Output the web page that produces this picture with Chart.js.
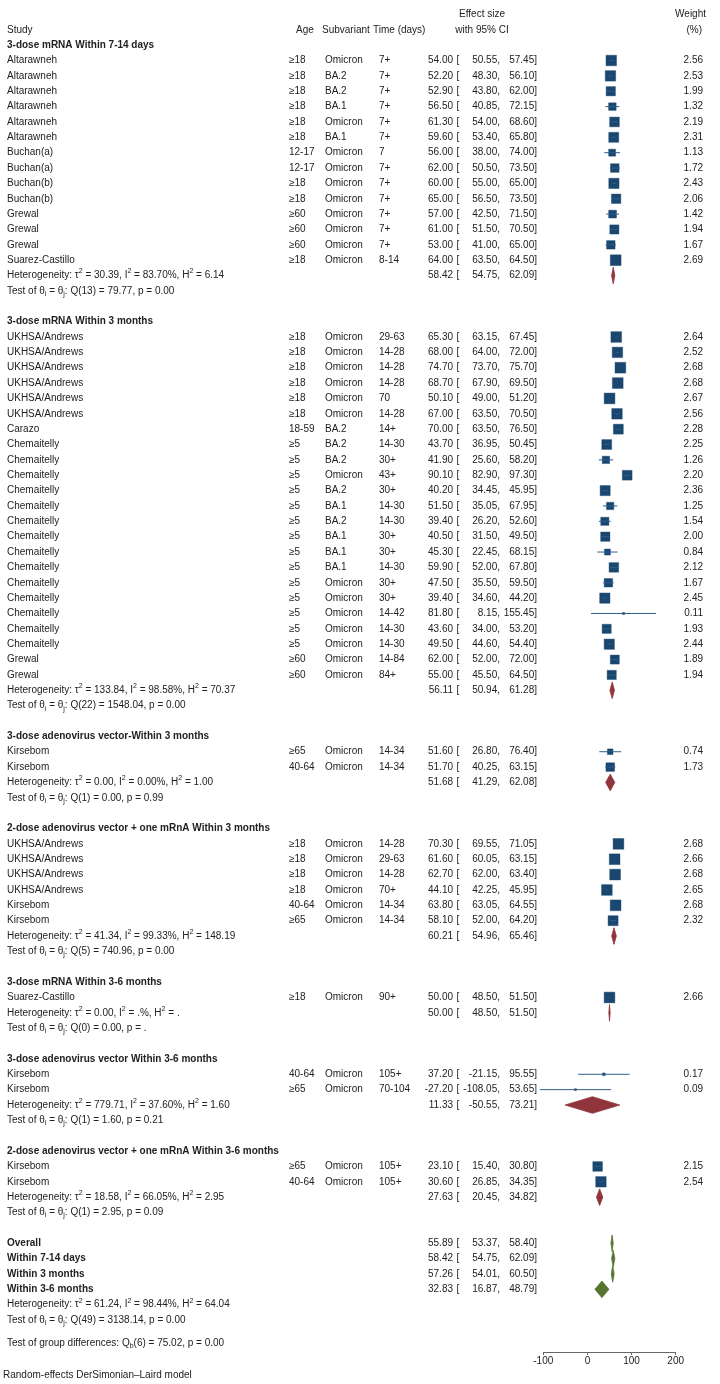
<!DOCTYPE html>
<html>
<head>
<meta charset="utf-8">
<script src="https://cdn.jsdelivr.net/npm/chart.js@4.4.1/dist/chart.umd.min.js"></script>
<style>
  html, body { margin: 0; padding: 0; background: #fff; }
  #wrap { position: relative; width: 720px; height: 1384px; }
</style>
</head>
<body>
<div id="wrap"><canvas id="forest"></canvas></div>
<script>
// ---------- data ----------
const groupTitles = [
  "3-dose mRNA Within 7-14 days",
  "3-dose mRNA Within 3 months",
  "3-dose adenovirus vector-Within 3 months",
  "2-dose adenovirus vector + one mRnA Within 3 months",
  "3-dose mRNA Within 3-6 months",
  "3-dose adenovirus vector Within 3-6 months",
  "2-dose adenovirus vector + one mRnA Within 3-6 months",
];
const groupSize = [14, 23, 2, 6, 1, 2, 2];

const studyNames = [
  "Altarawneh", "Altarawneh", "Altarawneh", "Altarawneh", "Altarawneh", "Altarawneh",
  "Buchan(a)", "Buchan(a)", "Buchan(b)", "Buchan(b)", "Grewal", "Grewal", "Grewal", "Suarez-Castillo",
  "UKHSA/Andrews", "UKHSA/Andrews", "UKHSA/Andrews", "UKHSA/Andrews", "UKHSA/Andrews", "UKHSA/Andrews",
  "Carazo", "Chemaitelly", "Chemaitelly", "Chemaitelly", "Chemaitelly", "Chemaitelly", "Chemaitelly",
  "Chemaitelly", "Chemaitelly", "Chemaitelly", "Chemaitelly", "Chemaitelly", "Chemaitelly", "Chemaitelly",
  "Chemaitelly", "Grewal", "Grewal",
  "Kirsebom", "Kirsebom",
  "UKHSA/Andrews", "UKHSA/Andrews", "UKHSA/Andrews", "UKHSA/Andrews", "Kirsebom", "Kirsebom",
  "Suarez-Castillo",
  "Kirsebom", "Kirsebom",
  "Kirsebom", "Kirsebom",
];
const ages = [
  "≥18", "≥18", "≥18", "≥18", "≥18", "≥18", "12-17", "12-17", "≥18", "≥18", "≥60", "≥60", "≥60", "≥18",
  "≥18", "≥18", "≥18", "≥18", "≥18", "≥18", "18-59", "≥5", "≥5", "≥5", "≥5", "≥5", "≥5", "≥5", "≥5",
  "≥5", "≥5", "≥5", "≥5", "≥5", "≥5", "≥60", "≥60",
  "≥65", "40-64",
  "≥18", "≥18", "≥18", "≥18", "40-64", "≥65",
  "≥18",
  "40-64", "≥65",
  "≥65", "40-64",
];
const subvariants = [
  "Omicron", "BA.2", "BA.2", "BA.1", "Omicron", "BA.1", "Omicron", "Omicron", "Omicron", "Omicron",
  "Omicron", "Omicron", "Omicron", "Omicron",
  "Omicron", "Omicron", "Omicron", "Omicron", "Omicron", "Omicron", "BA.2", "BA.2", "BA.2", "Omicron",
  "BA.2", "BA.1", "BA.2", "BA.1", "BA.1", "BA.1", "Omicron", "Omicron", "Omicron", "Omicron", "Omicron",
  "Omicron", "Omicron",
  "Omicron", "Omicron",
  "Omicron", "Omicron", "Omicron", "Omicron", "Omicron", "Omicron",
  "Omicron",
  "Omicron", "Omicron",
  "Omicron", "Omicron",
];
const times = [
  "7+", "7+", "7+", "7+", "7+", "7+", "7", "7+", "7+", "7+", "7+", "7+", "7+", "8-14",
  "29-63", "14-28", "14-28", "14-28", "70", "14-28", "14+", "14-30", "30+", "43+", "30+", "14-30",
  "14-30", "30+", "30+", "14-30", "30+", "30+", "14-42", "14-30", "14-30", "14-84", "84+",
  "14-34", "14-34",
  "14-28", "29-63", "14-28", "70+", "14-34", "14-34",
  "90+",
  "105+", "70-104",
  "105+", "105+",
];
const effect = [
  54.00, 52.20, 52.90, 56.50, 61.30, 59.60, 56.00, 62.00, 60.00, 65.00, 57.00, 61.00, 53.00, 64.00,
  65.30, 68.00, 74.70, 68.70, 50.10, 67.00, 70.00, 43.70, 41.90, 90.10, 40.20, 51.50, 39.40, 40.50,
  45.30, 59.90, 47.50, 39.40, 81.80, 43.60, 49.50, 62.00, 55.00,
  51.60, 51.70,
  70.30, 61.60, 62.70, 44.10, 63.80, 58.10,
  50.00,
  37.20, -27.20,
  23.10, 30.60,
];
const ciLow = [
  50.55, 48.30, 43.80, 40.85, 54.00, 53.40, 38.00, 50.50, 55.00, 56.50, 42.50, 51.50, 41.00, 63.50,
  63.15, 64.00, 73.70, 67.90, 49.00, 63.50, 63.50, 36.95, 25.60, 82.90, 34.45, 35.05, 26.20, 31.50,
  22.45, 52.00, 35.50, 34.60, 8.15, 34.00, 44.60, 52.00, 45.50,
  26.80, 40.25,
  69.55, 60.05, 62.00, 42.25, 63.05, 52.00,
  48.50,
  -21.15, -108.05,
  15.40, 26.85,
];
const ciHigh = [
  57.45, 56.10, 62.00, 72.15, 68.60, 65.80, 74.00, 73.50, 65.00, 73.50, 71.50, 70.50, 65.00, 64.50,
  67.45, 72.00, 75.70, 69.50, 51.20, 70.50, 76.50, 50.45, 58.20, 97.30, 45.95, 67.95, 52.60, 49.50,
  68.15, 67.80, 59.50, 44.20, 155.45, 53.20, 54.40, 72.00, 64.50,
  76.40, 63.15,
  71.05, 63.15, 63.40, 45.95, 64.55, 64.20,
  51.50,
  95.55, 53.65,
  30.80, 34.35,
];
const weights = [
  2.56, 2.53, 1.99, 1.32, 2.19, 2.31, 1.13, 1.72, 2.43, 2.06, 1.42, 1.94, 1.67, 2.69,
  2.64, 2.52, 2.68, 2.68, 2.67, 2.56, 2.28, 2.25, 1.26, 2.20, 2.36, 1.25, 1.54, 2.00, 0.84, 2.12,
  1.67, 2.45, 0.11, 1.93, 2.44, 1.89, 1.94,
  0.74, 1.73,
  2.68, 2.66, 2.68, 2.65, 2.68, 2.32,
  2.66,
  0.17, 0.09,
  2.15, 2.54,
];

// pooled subgroup results
const poolEst = [58.42, 56.11, 51.68, 60.21, 50.00, 11.33, 27.63];
const poolLow = [54.75, 50.94, 41.29, 54.96, 48.50, -50.55, 20.45];
const poolHigh = [62.09, 61.28, 62.08, 65.46, 51.50, 73.21, 34.82];
const hetTau2 = ["30.39", "133.84", "0.00", "41.34", "0.00", "779.71", "18.58"];
const hetI2 = ["83.70%", "98.58%", "0.00%", "99.33%", ".%", "37.60%", "66.05%"];
const hetH2 = ["6.14", "70.37", "1.00", "148.19", ".", "1.60", "2.95"];
const qDf = [13, 22, 1, 5, 0, 1, 1];
const qStat = ["79.77", "1548.04", "0.00", "740.96", "0.00", "1.60", "2.95"];
const qP = ["0.00", "0.00", "0.99", "0.00", ".", "0.21", "0.09"];

// overall block
const overallLabels = ["Overall", "Within 7-14 days", "Within 3 months", "Within 3-6 months"];
const overallEst = [55.89, 58.42, 57.26, 32.83];
const overallLow = [53.37, 54.75, 54.01, 16.87];
const overallHigh = [58.40, 62.09, 60.50, 48.79];

const xTicks = [-100, 0, 100, 200];

// ---------- row layout ----------
const studyRow = [], titleRow = [], hetRow = [], testRow = [];
let r = 0, k = 0;
groupSize.forEach((n, g) => {
  titleRow.push(r++);
  for (let i = 0; i < n; i++) studyRow[k++] = r++;
  hetRow.push(r++);
  testRow.push(r++);
  r++; // blank line
});
const overallRow = overallLabels.map((_, i) => r + i);
const allHetRow = r + 4, allTestRow = r + 5, groupDiffRow = r + 6.5, noteRow = r + 8.6;

// row r sits at 42.2 + 15.395 * r px; chart area runs 5..1352
const ROW0 = 42.2, ROWH = 15.395;
const yMin = (5 - ROW0) / ROWH, yMax = (1352 - ROW0) / ROWH;

const NAVY = "#1a476f", CI_LINE = "#2f5e8c", MAROON = "#90353b", GREEN = "#55752f";
const FONT = '"Liberation Sans", Arial, Helvetica, sans-serif';
const DH = 0.54; // diamond half height, in rows

function diamond(e, lo, hi, row, color) {
  return {
    data: [
      { x: lo, y: row }, { x: e, y: row - DH }, { x: hi, y: row },
      { x: e, y: row + DH }, { x: lo, y: row },
    ],
    showLine: true,
    fill: "shape",
    backgroundColor: color,
    borderColor: color,
    borderWidth: 0.8,
    pointRadius: 0,
    tension: 0,
    clip: false,
  };
}

// CI whiskers as one broken line
const ciData = [];
effect.forEach((_, i) => {
  ciData.push({ x: ciLow[i], y: studyRow[i] }, { x: ciHigh[i], y: studyRow[i] }, { x: null, y: null });
});

const datasets = [
  {
    data: ciData,
    showLine: true,
    spanGaps: false,
    borderColor: CI_LINE,
    borderWidth: 1,
    pointRadius: 0,
    clip: false,
  },
  {
    data: effect.map((e, i) => ({ x: e, y: studyRow[i] })),
    pointStyle: "rect",
    pointRadius: (c) => (10.8 * Math.sqrt(weights[c.dataIndex] / 2.69)) / Math.SQRT2,
    backgroundColor: NAVY,
    borderColor: NAVY,
    borderWidth: 0.4,
    clip: false,
  },
];
poolEst.forEach((e, g) => datasets.push(diamond(e, poolLow[g], poolHigh[g], hetRow[g], MAROON)));
overallEst.forEach((e, i) => datasets.push(diamond(e, overallLow[i], overallHigh[i], overallRow[i], GREEN)));

// ---------- text columns ----------
function rich(ctx, x, y, parts, bold) {
  let cx = x;
  parts.forEach((p) => {
    const [t, mode] = Array.isArray(p) ? p : [p, ""];
    ctx.font = (bold ? "bold " : "") + (mode ? 7 : 10) + "px " + FONT;
    const dy = mode === "sup" ? -4 : mode === "sub" ? 3 : 0;
    ctx.fillText(t, cx, y + dy);
    cx += ctx.measureText(t).width;
  });
}
function hetParts(t, i2, h2) {
  return ["Heterogeneity: τ", ["2", "sup"], " = " + t + ", I", ["2", "sup"], " = " + i2 + ", H", ["2", "sup"], " = " + h2];
}
function testParts(df, q, p) {
  return ["Test of θ", ["i", "sub"], " = θ", ["j", "sub"], ": Q(" + df + ") = " + q + ", p = " + p];
}
function effText(ctx, y, e, lo, hi) {
  ctx.font = "10px " + FONT;
  ctx.textAlign = "right";
  ctx.fillText(e.toFixed(2), 453, y);
  ctx.textAlign = "left";
  ctx.fillText("[", 456.5, y);
  ctx.textAlign = "right";
  ctx.fillText(lo.toFixed(2) + ",", 500, y);
  ctx.fillText(hi.toFixed(2) + "]", 537, y);
  ctx.textAlign = "left";
}

const textPlugin = {
  id: "forestText",
  afterDraw(chart) {
    const { ctx } = chart;
    const Y = (row) => chart.scales.y.getPixelForValue(row);
    ctx.save();
    ctx.fillStyle = "#222";
    ctx.textBaseline = "middle";
    ctx.font = "10px " + FONT;

    // header
    ctx.textAlign = "left";
    ctx.fillText("Study", 7, Y(-1));
    ctx.fillText("Age", 296, Y(-1));
    ctx.fillText("Subvariant", 322, Y(-1));
    ctx.fillText("Time (days)", 373, Y(-1));
    ctx.textAlign = "center";
    ctx.fillText("Effect size", 482, Y(-2));
    ctx.fillText("with 95% CI", 482, Y(-1));
    ctx.textAlign = "right";
    ctx.fillText("Weight", 706, Y(-2));
    ctx.fillText("(%)", 702, Y(-1));
    ctx.textAlign = "left";

    groupTitles.forEach((t, g) => {
      ctx.font = "bold 10px " + FONT;
      ctx.fillText(t, 7, Y(titleRow[g]));
      rich(ctx, 7, Y(hetRow[g]), hetParts(hetTau2[g], hetI2[g], hetH2[g]));
      rich(ctx, 7, Y(testRow[g]), testParts(qDf[g], qStat[g], qP[g]));
      effText(ctx, Y(hetRow[g]), poolEst[g], poolLow[g], poolHigh[g]);
    });

    studyNames.forEach((s, i) => {
      const y = Y(studyRow[i]);
      ctx.font = "10px " + FONT;
      ctx.fillText(s, 7, y);
      ctx.fillText(ages[i], 289, y);
      ctx.fillText(subvariants[i], 325, y);
      ctx.fillText(times[i], 379, y);
      effText(ctx, y, effect[i], ciLow[i], ciHigh[i]);
      ctx.textAlign = "right";
      ctx.fillText(weights[i].toFixed(2), 703, y);
      ctx.textAlign = "left";
    });

    overallLabels.forEach((t, i) => {
      ctx.font = "bold 10px " + FONT;
      ctx.fillText(t, 7, Y(overallRow[i]));
      effText(ctx, Y(overallRow[i]), overallEst[i], overallLow[i], overallHigh[i]);
    });
    rich(ctx, 7, Y(allHetRow), hetParts("61.24", "98.44%", "64.04"));
    rich(ctx, 7, Y(allTestRow), testParts(49, "3138.14", "0.00"));
    rich(ctx, 7, Y(groupDiffRow), ["Test of group differences: Q", ["b", "sub"], "(6) = 75.02, p = 0.00"]);
    ctx.font = "10px " + FONT;
    ctx.fillText("Random-effects DerSimonian–Laird model", 3, Y(noteRow));
    ctx.restore();
  },
};

// ---------- chart ----------
new Chart(document.getElementById("forest"), {
  type: "scatter",
  data: { datasets },
  options: {
    responsive: true,
    maintainAspectRatio: false,
    animation: false,
    layout: { padding: { left: 543.3, right: 44.3, top: 5, bottom: 0 } },
    plugins: { legend: { display: false }, tooltip: { enabled: false } },
    scales: {
      x: {
        type: "linear",
        position: "bottom",
        min: xTicks[0],
        max: xTicks[xTicks.length - 1],
        afterBuildTicks: (s) => { s.ticks = xTicks.map((v) => ({ value: v })); },
        afterFit: (s) => { s.height = 32; },
        grid: { drawOnChartArea: false, drawTicks: true, tickLength: 3, color: "#666" },
        border: { display: true, color: "#666", width: 1 },
        ticks: { padding: 0, color: "#222", font: { family: FONT, size: 10 }, maxRotation: 0 },
      },
      y: {
        type: "linear",
        display: false,
        reverse: true,
        min: yMin,
        max: yMax,
      },
    },
  },
  plugins: [textPlugin],
});
</script>
</body>
</html>
